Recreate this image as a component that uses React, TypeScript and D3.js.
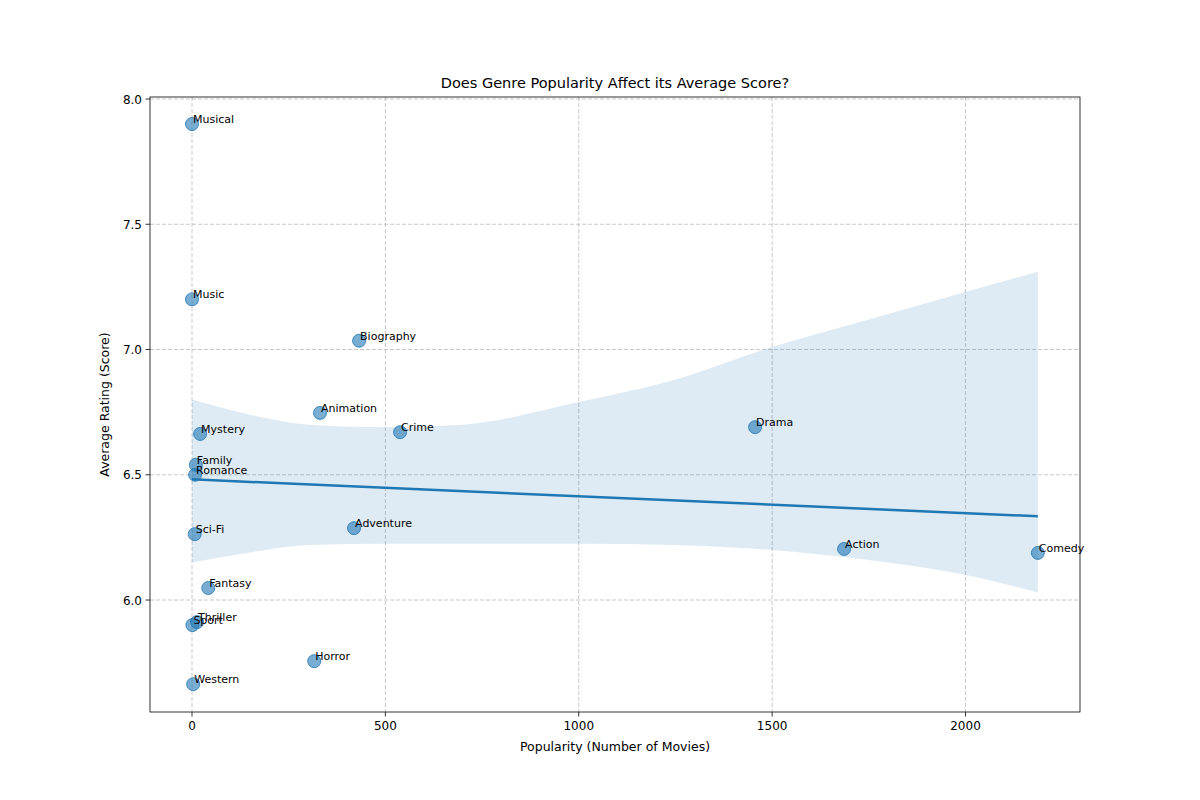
import React from "react";
import * as d3 from "d3";

const genres = ["Musical","Music","Biography","Animation","Mystery","Crime","Drama","Family","Romance","Sci-Fi","Adventure","Action","Comedy","Fantasy","Thriller","Sport","Horror","Western"];
const counts = [0,0,432,331,21,538,1456,10,8,7,419,1686,2187,42,13,1,316,3];
const ratings = [7.9,7.2,7.035,6.747,6.663,6.67,6.69,6.54,6.5,6.263,6.287,6.204,6.188,6.048,5.912,5.9,5.756,5.664];
const xTicks = [0,500,1000,1500,2000];
const yTicks = [6.0,6.5,7.0,7.5,8.0];
// bootstrap confidence band edges
const bandX = [0,150,300,500,700,1000,1250,1500,1750,2000,2187];
const bandHi = [6.80,6.74,6.70,6.69,6.70,6.79,6.88,7.01,7.12,7.23,7.31];
const bandLo = [6.15,6.19,6.22,6.225,6.225,6.225,6.22,6.20,6.16,6.10,6.03];

export default function App() {
  const W = 1200, H = 800, L = 150, R = 1080, T = 97, B = 712;
  const x = d3.scaleLinear().domain([-108.6, 2296]).range([L, R]);
  const y = d3.scaleLinear().domain([5.553, 8.008]).range([B, T]);
  const mx = d3.mean(counts)!, my = d3.mean(ratings)!;
  const sxx = d3.sum(counts, c => (c - mx) ** 2);
  const sxy = d3.sum(counts, (c, i) => (c - mx) * (ratings[i] - my));
  const b = sxy / sxx, a = my - b * mx;
  const x0 = d3.min(counts)!, x1 = d3.max(counts)!;
  const band = bandX.map((v, i) => ({ v, lo: bandLo[i], hi: bandHi[i] }));
  const area = d3.area<any>().x(d => x(d.v)).y0(d => y(d.lo)).y1(d => y(d.hi)).curve(d3.curveMonotoneX);
  const font = "DejaVu Sans, sans-serif";
  return (
    <svg width={W} height={H} style={{ position: "absolute", left: 0, top: 0, background: "#fff" }} fontFamily={font}>
      {xTicks.map(v => <line key={"gx" + v} x1={x(v)} x2={x(v)} y1={T} y2={B} stroke="#b0b0b0" strokeOpacity={0.7} strokeDasharray="4,2" />)}
      {yTicks.map(v => <line key={"gy" + v} x1={L} x2={R} y1={y(v)} y2={y(v)} stroke="#b0b0b0" strokeOpacity={0.7} strokeDasharray="4,2" />)}
      <path d={area(band)!} fill="#1f77b4" fillOpacity={0.15} />
      <line x1={x(x0)} x2={x(x1)} y1={y(a + b * x0)} y2={y(a + b * x1)} stroke="#1f77b4" strokeWidth={2.5} />
      {counts.map((c, i) => <circle key={i} cx={x(c)} cy={y(ratings[i])} r={6.5} fill="#1f77b4" fillOpacity={0.6} stroke="#1f77b4" strokeOpacity={0.8} strokeWidth={1} />)}
      {counts.map((c, i) => <text key={"t" + i} x={x(c) + 1} y={y(ratings[i]) - 1} fontSize={11}>{genres[i]}</text>)}
      <rect x={L} y={T} width={R - L} height={B - T} fill="none" stroke="#000" strokeWidth={0.8} />
      {xTicks.map(v => <g key={"xt" + v}>
        <line x1={x(v)} x2={x(v)} y1={B} y2={B + 4.5} stroke="#000" strokeWidth={0.8} />
        <text x={x(v)} y={B + 18} fontSize={12} textAnchor="middle">{v}</text>
      </g>)}
      {yTicks.map(v => <g key={"yt" + v}>
        <line x1={L - 4.5} x2={L} y1={y(v)} y2={y(v)} stroke="#000" strokeWidth={0.8} />
        <text x={L - 8} y={y(v) + 4.5} fontSize={12} textAnchor="end">{v.toFixed(1)}</text>
      </g>)}
      <text x={(L + R) / 2} y={751} fontSize={12.5} textAnchor="middle">Popularity (Number of Movies)</text>
      <text transform={`translate(109,${(T + B) / 2}) rotate(-90)`} fontSize={12.5} textAnchor="middle">Average Rating (Score)</text>
      <text x={(L + R) / 2} y={88} fontSize={14.5} textAnchor="middle">Does Genre Popularity Affect its Average Score?</text>
    </svg>
  );
}
